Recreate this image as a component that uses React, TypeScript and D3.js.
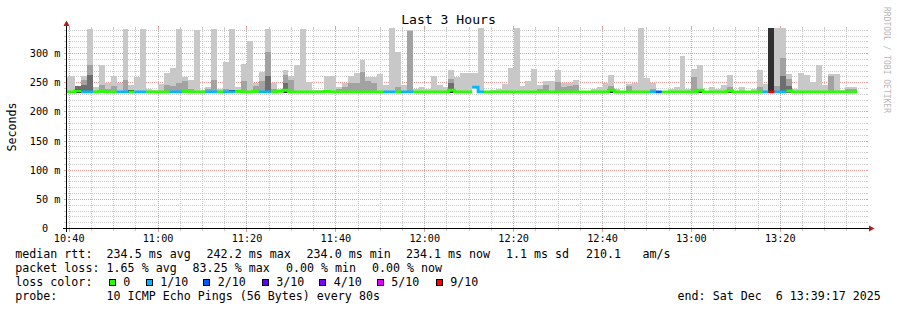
import React from "react";
import * as d3 from "d3";

const FONT = "'DejaVu Sans Mono', monospace";

const startTime = new Date(Date.UTC(2025, 11, 6, 10, 39, 17));
const endTime = new Date(Date.UTC(2025, 11, 6, 13, 39, 17));
const firstStepStart = new Date(Date.UTC(2025, 11, 6, 10, 38, 40));
const stepMs = 80 * 1000;
const yMax = 342.86;

// smoke envelope (ms): outermost (lightest) top per 80 s step
const smokeMax = [
  259, 262, 245, 262, 342, 243, 280, 249, 261, 250,
  342, 246, 259, 342, 239, 237, 247, 267, 276, 342,
  259, 255, 341, 237, 243, 342, 239, 286, 342, 243,
  282, 322, 250, 269, 342, 250, 239, 272, 261, 280,
  342, 251, 237, 237, 261, 261, 242, 249, 261, 266,
  289, 259, 259, 265, 246, 343, 302, 246, 340, 239,
  242, 239, 261, 246, 243, 272, 260, 267, 266, 267,
  343, 236, 237, 239, 247, 276, 343, 245, 253, 274,
  246, 253, 253, 272, 250, 250, 255, 236, 236, 240,
  242, 249, 263, 240, 236, 247, 250, 343, 258, 250,
  236, 236, 239, 243, 295, 239, 273, 280, 236, 242,
  240, 246, 263, 236, 243, 235, 239, 271, 247, 343,
  343, 343, 265, 239, 266, 263, 251, 280, 246, 265,
  265, 237, 243, 242,
];
const smokeMid = [
  0, 0, 0, 255, 281, 0, 246, 240, 245, 0,
  255, 0, 0, 0, 0, 0, 0, 246, 245, 250,
  253, 240, 0, 0, 240, 254, 0, 240, 0, 0,
  253, 0, 245, 253, 303, 240, 0, 263, 254, 0,
  0, 0, 0, 0, 0, 0, 240, 242, 249, 250,
  269, 253, 250, 0, 0, 0, 243, 0, 339, 0,
  0, 0, 0, 0, 0, 257, 0, 0, 0, 0,
  0, 0, 0, 0, 0, 0, 0, 0, 0, 0,
  240, 246, 0, 251, 243, 244, 246, 0, 0, 0,
  0, 0, 245, 0, 0, 245, 0, 0, 0, 240,
  0, 0, 0, 0, 0, 0, 259, 0, 0, 0,
  0, 0, 242, 0, 0, 0, 0, 242, 0, 343,
  245, 292, 257, 0, 0, 0, 0, 0, 0, 262,
  0, 0, 240, 240,
];
const smokeDark = [
  0, 0, 244, 246, 264, 0, 0, 0, 0, 0,
  0, 0, 0, 0, 0, 0, 0, 0, 0, 0,
  0, 0, 0, 0, 0, 0, 0, 0, 0, 0,
  0, 0, 0, 0, 262, 0, 0, 250, 0, 0,
  0, 0, 0, 0, 0, 0, 0, 0, 0, 0,
  0, 0, 0, 0, 0, 0, 0, 0, 0, 0,
  0, 0, 0, 0, 0, 250, 0, 0, 0, 0,
  0, 0, 0, 0, 0, 0, 0, 0, 0, 0,
  0, 0, 0, 0, 0, 0, 0, 0, 0, 0,
  0, 0, 0, 0, 0, 0, 0, 0, 0, 0,
  0, 0, 0, 0, 0, 0, 0, 0, 0, 0,
  0, 0, 0, 0, 0, 0, 0, 0, 0, 343,
  0, 262, 245, 0, 0, 0, 0, 0, 0, 0,
  0, 0, 0, 0,
];
const smokeCore = [
  0, 0, 240, 0, 0, 0, 0, 0, 0, 0,
  0, 237, 0, 0, 0, 0, 0, 0, 0, 0,
  0, 0, 0, 0, 0, 0, 0, 0, 237, 0,
  0, 0, 0, 0, 0, 0, 0, 240, 0, 0,
  0, 0, 0, 0, 0, 0, 0, 0, 0, 0,
  0, 0, 0, 0, 0, 0, 0, 0, 0, 0,
  0, 0, 0, 0, 0, 237, 0, 0, 0, 0,
  0, 0, 0, 0, 0, 0, 0, 0, 0, 0,
  0, 0, 0, 0, 0, 0, 0, 0, 0, 0,
  0, 0, 237, 0, 0, 0, 0, 0, 0, 0,
  0, 0, 0, 0, 0, 0, 0, 238, 0, 0,
  0, 0, 238, 0, 0, 0, 0, 0, 0, 343,
  0, 0, 0, 0, 0, 0, 0, 0, 0, 0,
  0, 0, 0, 0,
];
const smokeMin = [
  233, 233, 233, 233, 233, 233, 233, 233, 233, 233,
  233, 233, 233, 233, 233, 233, 233, 233, 233, 233,
  233, 233, 233, 233, 233, 233, 233, 233, 233, 233,
  233, 233, 233, 233, 233, 233, 233, 233, 233, 233,
  233, 233, 233, 233, 233, 233, 233, 233, 233, 233,
  233, 233, 233, 233, 233, 233, 233, 233, 233, 233,
  233, 233, 233, 233, 233, 233, 233, 233, 233, 241,
  233, 233, 233, 233, 233, 233, 233, 233, 233, 233,
  233, 233, 233, 233, 233, 233, 233, 233, 233, 233,
  233, 233, 233, 233, 233, 233, 233, 233, 233, 233,
  233, 233, 233, 233, 233, 233, 233, 233, 233, 233,
  233, 233, 233, 233, 233, 233, 233, 233, 233, 233,
  233, 233, 233, 233, 233, 233, 233, 233, 233, 233,
  233, 233, 233, 233,
];
const medianRtt = [
  234.3, 234.3, 236, 234.3, 234.3, 234.3, 235, 234.3, 234.3, 234.3,
  234.3, 234.3, 234.3, 234.3, 234.3, 234.3, 234.3, 234.3, 234.3, 234.3,
  235, 234.3, 234.3, 234.3, 234.3, 234.3, 234.3, 234.3, 234.3, 235,
  234.3, 234.3, 235, 234.3, 234.3, 234.3, 235, 237, 234.3, 234.3,
  234.3, 234.3, 234.3, 234.3, 235, 234.3, 234.3, 234.3, 234.3, 234.3,
  234.3, 234.3, 234.3, 234.3, 234.3, 234.3, 234.3, 234.3, 234.3, 234.3,
  234.3, 234.3, 234.3, 234.3, 234.3, 237, 234.3, 234.3, 234.3, 242.2,
  234.3, 234.3, 234.3, 234.3, 234.3, 234.3, 234.3, 234.3, 234.3, 234.3,
  234.3, 234.3, 234.3, 234.3, 234.3, 234.3, 234.3, 234.3, 234.3, 234.3,
  234.3, 234.3, 237, 234.3, 234.3, 234.3, 234.3, 234.3, 234.3, 234.3,
  234.3, 234.3, 234.3, 234.3, 234.3, 234.3, 234.3, 237, 234.3, 234.3,
  234.3, 234.3, 236, 234.3, 234.3, 234.3, 234.3, 234.3, 234.3, 234.3,
  234.3, 234.3, 236, 234.3, 234.3, 234.3, 234.3, 234.3, 234.3, 234.3,
  234.3, 234.3, 234.3, 234.1,
];
// lost pings out of 10 per step
const lossCount = [
  0, 0, 0, 1, 1, 0, 0, 0, 0, 1,
  1, 0, 1, 1, 0, 0, 0, 0, 1, 1,
  0, 0, 0, 0, 1, 1, 0, 1, 1, 0,
  0, 0, 0, 1, 1, 0, 0, 0, 0, 0,
  0, 0, 0, 0, 0, 0, 0, 0, 0, 0,
  0, 0, 0, 0, 1, 1, 0, 1, 1, 0,
  0, 0, 0, 0, 0, 0, 0, 0, 0, 1,
  1, 0, 0, 0, 0, 0, 0, 0, 0, 0,
  0, 0, 0, 0, 0, 0, 0, 0, 0, 0,
  0, 0, 0, 0, 0, 0, 0, 0, 0, 1,
  2, 0, 0, 0, 0, 0, 0, 0, 0, 0,
  0, 0, 0, 0, 0, 0, 0, 0, 1, 9,
  1, 1, 0, 0, 0, 0, 0, 0, 0, 0,
  0, 0, 0, 0,
];

const lossKeys = [0, 1, 2, 3, 4, 5, 9];
const lossLabels = ["0", "1/10", "2/10", "3/10", "4/10", "5/10", "9/10"];
const lossColors = ["#26ff00", "#00b8ff", "#0059ff", "#5e00ff", "#7e00ff", "#dd00ff", "#ff0000"];
const yTickValues = [0, 50, 100, 150, 200, 250, 300];

const title = "Last 3 Hours";
const yAxisTitle = "Seconds";
const watermark = "RRDTOOL / TOBI OETIKER";
const rttLabel = "median rtt:";
const rttItems = ["234.5 ms avg", "242.2 ms max", "234.0 ms min", "234.1 ms now", "1.1 ms sd", "210.1", "am/s"];
const lossLabel = "packet loss:";
const lossItems = ["1.65 % avg", "83.25 % max", "0.00 % min", "0.00 % now"];
const lossColorLabel = "loss color:";
const probeLabel = "probe:";
const probeText = "10 ICMP Echo Pings (56 Bytes) every 80s";
const endText = "end: Sat Dec  6 13:39:17 2025";

export default function App() {
  const X0 = 66, X1 = 866, YB = 228.5, YT = 28.5;
  const x = d3.scaleUtc().domain([startTime, endTime]).range([X0, X1]);
  const y = d3.scaleLinear().domain([0, yMax]).range([YB, YT]);
  const crisp = (v: number) => Math.floor(v) + 0.5;
  const stepX = (k: number) => x(new Date(firstStepStart.getTime() + k * stepMs));

  const minorX = d3.utcMinute.every(5)!.range(startTime, endTime).filter((d) => d.getUTCMinutes() % 20 !== 0);
  const majorX = d3.utcMinute.every(20)!.range(startTime, endTime);
  const minorY = d3.range(10, yMax, 10).filter((v) => v % 50 !== 0);
  const majorY = yTickValues.filter((v) => v > 0);
  const fmt = d3.utcFormat("%H:%M");

  const band = (tops: number[]) => {
    const pts: { x: number; y0: number; y1: number }[] = [];
    tops.forEach((top, k) => {
      const lo = smokeMin[k];
      const t = top > lo ? top : lo;
      pts.push({ x: stepX(k), y0: y(lo), y1: y(t) });
      pts.push({ x: stepX(k + 1), y0: y(lo), y1: y(t) });
    });
    return d3.area<{ x: number; y0: number; y1: number }>().x((d) => d.x).y0((d) => d.y0).y1((d) => d.y1)(pts) || "";
  };

  const medianPath = (L: number) => {
    const pts: ({ x: number; y: number } | null)[] = [];
    medianRtt.forEach((m, k) => {
      if (lossCount[k] === L) {
        pts.push({ x: stepX(k), y: y(m) });
        pts.push({ x: stepX(k + 1), y: y(m) });
      } else pts.push(null);
    });
    return d3.line<any>().defined((d) => d !== null).x((d) => d.x).y((d) => d.y)(pts) || "";
  };

  const gridMinor = "#cacaca";
  const gridMajor = "#ec9a9a";
  const arrow = "#b01c1c";

  const legendFs = 11.65;
  const squareX = [108.5, 145.5, 203, 261.5, 319, 376.5, 435.5];
  const rttX = [106.6, 206.6, 306.6, 406, 506, 586, 642.6];
  const lossX = [106.6, 192.6, 286, 372];
  const pre = { whiteSpace: "pre" as const };

  return (
    <svg width={897} height={310} style={{ position: "absolute", left: 0, top: 0, background: "#fff" }} fontFamily={FONT}>
      <rect x={0} y={0} width={897} height={310} fill="#ffffff" />
      <defs>
        <clipPath id="plot">
          <rect x={X0} y={YT - 0.5} width={X1 - X0} height={YB - YT + 0.5} />
        </clipPath>
      </defs>

      {/* grid */}
      <g strokeWidth={1} shapeRendering="crispEdges">
        {minorY.map((v) => (
          <g key={"my" + v} stroke={gridMinor}>
            <line x1={X0} x2={X1} y1={crisp(y(v))} y2={crisp(y(v))} strokeDasharray="1,1" />
            <line x1={X0 - 2} x2={X0} y1={crisp(y(v))} y2={crisp(y(v))} />
            <line x1={X1} x2={X1 + 2} y1={crisp(y(v))} y2={crisp(y(v))} />
          </g>
        ))}
        {minorX.map((d) => (
          <g key={"mx" + d.getTime()} stroke={gridMinor}>
            <line x1={crisp(x(d))} x2={crisp(x(d))} y1={YT} y2={YB} strokeDasharray="1,1" />
            <line x1={crisp(x(d))} x2={crisp(x(d))} y1={YB} y2={YB + 2} />
            <line x1={crisp(x(d))} x2={crisp(x(d))} y1={YT - 2} y2={YT} />
          </g>
        ))}
        {majorY.map((v) => (
          <g key={"My" + v} stroke={gridMajor}>
            <line x1={X0} x2={X1} y1={crisp(y(v))} y2={crisp(y(v))} strokeDasharray="1,1" />
            <line x1={X0 - 2} x2={X0} y1={crisp(y(v))} y2={crisp(y(v))} />
            <line x1={X1} x2={X1 + 2} y1={crisp(y(v))} y2={crisp(y(v))} />
          </g>
        ))}
        {majorX.map((d) => (
          <g key={"Mx" + d.getTime()} stroke={gridMajor}>
            <line x1={crisp(x(d))} x2={crisp(x(d))} y1={YT} y2={YB} strokeDasharray="1,1" />
            <line x1={crisp(x(d))} x2={crisp(x(d))} y1={YB} y2={YB + 3} />
            <line x1={crisp(x(d))} x2={crisp(x(d))} y1={YT - 3} y2={YT} />
          </g>
        ))}
      </g>

      {/* smoke */}
      <g clipPath="url(#plot)" shapeRendering="crispEdges">
        <path d={band(smokeMax)} fill="#c8c8c8" />
        <path d={band(smokeMid)} fill="#a2a2a2" />
        <path d={band(smokeDark)} fill="#6e6e6e" />
        <path d={band(smokeCore)} fill="#303030" />
      </g>

      {/* median lines by loss colour */}
      <g clipPath="url(#plot)" fill="none" strokeWidth={2.8}>
        {lossKeys.map((L, i) => (
          <path key={"ml" + L} d={medianPath(L)} stroke={lossColors[i]} />
        ))}
      </g>

      {/* axes */}
      <g stroke="#000" strokeWidth={1} shapeRendering="crispEdges">
        <line x1={63} x2={870} y1={YB} y2={YB} />
        <line x1={X0 + 0.5} x2={X0 + 0.5} y1={YB + 3} y2={24} />
      </g>
      <path d={`M${X0 + 0.5},20.5 L${X0 - 2.5},26 L${X0 + 3.5},26 Z`} fill={arrow} />
      <path d={`M874.5,${YB} L869,${YB - 3} L869,${YB + 3} Z`} fill={arrow} />

      {/* y tick labels */}
      <g fontSize={10.2} fill="#000">
        {yTickValues.map((v) => (
          <text key={"yl" + v} x={v === 0 ? 48.2 : 60.5} y={crisp(y(v)) + 3.4} textAnchor="end">
            {v === 0 ? "0" : `${v} m`}
          </text>
        ))}
      </g>
      {/* x tick labels */}
      <g fontSize={10.2} fill="#000">
        {majorX.map((d) => (
          <text key={"xl" + d.getTime()} x={x(d)} y={241.5} textAnchor="middle">
            {fmt(d)}
          </text>
        ))}
      </g>

      {/* titles */}
      <text x={448.5} y={24} fontSize={13.1} textAnchor="middle" fill="#000">{title}</text>
      <text transform={`translate(15.5,127) rotate(-90)`} fontSize={11.65} textAnchor="middle" fill="#000">{yAxisTitle}</text>
      <text transform={`translate(883.5,60) rotate(90)`} fontSize={8} textAnchor="middle" fill="#b8b8b8">{watermark}</text>

      {/* legend */}
      <g fontSize={legendFs} fill="#000">
        <text x={15.3} y={258.3}>{rttLabel}</text>
        {rttItems.map((s, i) => (
          <text key={"r" + i} x={rttX[i]} y={258.3}>{s}</text>
        ))}
        <text x={15.3} y={272}>{lossLabel}</text>
        {lossItems.map((s, i) => (
          <text key={"l" + i} x={lossX[i]} y={272}>{s}</text>
        ))}
        <text x={15.3} y={285.8}>{lossColorLabel}</text>
        {lossLabels.map((s, i) => (
          <g key={"lc" + i}>
            <rect x={squareX[i] + 0.5} y={279} width={6} height={6} fill={lossColors[i]} stroke="#000" strokeWidth={1} shapeRendering="crispEdges" />
            <text x={squareX[i] + 14.8} y={285.8}>{s}</text>
          </g>
        ))}
        <text x={15.3} y={299.6}>{probeLabel}</text>
        <text x={106.6} y={299.6}>{probeText}</text>
        <text x={677.6} y={299.6} xmlSpace="preserve" style={pre}>{endText}</text>
      </g>
    </svg>
  );
}
